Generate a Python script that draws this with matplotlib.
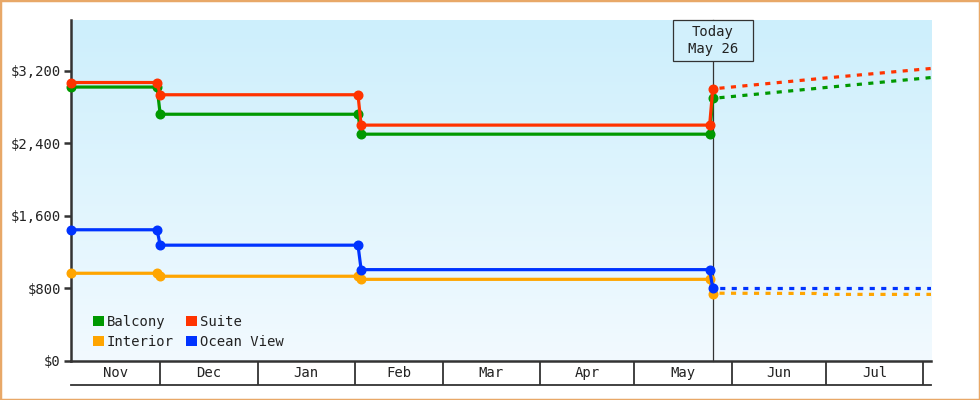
import matplotlib
matplotlib.use("Agg")
import matplotlib.pyplot as plt
import matplotlib.dates as mdates
from matplotlib.patches import Rectangle, Patch
import numpy as np
import pandas as pd

# ---- data ----
hist_dates = ["2024-11-02 12:00", "2024-11-30", "2024-12-01", "2025-02-02",
              "2025-02-03", "2025-05-25", "2025-05-26"]
fc_dates = ["2025-05-26", "2025-06-28", "2025-06-30", "2025-08-03 12:00"]

balcony_hist = [3020, 3020, 2720, 2720, 2500, 2500, 2895]
suite_hist = [3070, 3070, 2935, 2935, 2600, 2600, 3000]
ocean_hist = [1445, 1445, 1275, 1275, 1005, 1005, 800]
interior_hist = [965, 965, 932, 932, 898, 898, 740]

balcony_fc = [2895, 3005, 3012, 3125]
suite_fc = [3000, 3110, 3117, 3225]
ocean_fc = [800, 800, 800, 800]
interior_fc = [745, 742, 732, 732]

series = ["Balcony", "Suite", "Interior", "Ocean View"]
legend_order = ["Balcony", "Interior", "Suite", "Ocean View"]
colors = {"Balcony": "#009900", "Suite": "#FF3300",
          "Interior": "#FFA500", "Ocean View": "#0033FF"}
hist = {"Balcony": balcony_hist, "Suite": suite_hist,
        "Interior": interior_hist, "Ocean View": ocean_hist}
fc = {"Balcony": balcony_fc, "Suite": suite_fc,
      "Interior": interior_fc, "Ocean View": ocean_fc}

months = ["Nov", "Dec", "Jan", "Feb", "Mar", "Apr", "May", "Jun", "Jul"]
month_starts = ["2024-11-01", "2024-12-01", "2025-01-01", "2025-02-01", "2025-03-01",
                "2025-04-01", "2025-05-01", "2025-06-01", "2025-07-01", "2025-08-01"]
today = "2025-05-26"
today_label = "Today\nMay 26"
yticks = [0, 800, 1600, 2400, 3200]

x_start = "2024-11-02 12:00"
x_end = "2025-08-03 12:00"

# ---- figure ----
FONT = "DejaVu Sans Mono"
TXT = "#222222"
W, H = 980, 400
fig = plt.figure(figsize=(W / 100, H / 100), dpi=100)
fig.patch.set_facecolor("white")
fig.add_artist(Rectangle((0, 0), 1, 1, transform=fig.transFigure, fill=False,
                         edgecolor="#E8A868", linewidth=2.5))

L, R, T, B = 70.7, 931, 20, 360.7
ax = fig.add_axes([L / W, 1 - B / H, (R - L) / W, (B - T) / H])

d2n = lambda s: mdates.date2num(pd.to_datetime(s))
x0, x1 = d2n(x_start), d2n(x_end)
ymax = 3760

# gradient background
grad = np.linspace(0, 1, 256).reshape(-1, 1)
top = np.array([0xCD, 0xEF, 0xFC]) / 255
bot = np.array([0xF2, 0xFA, 0xFF]) / 255
img = top[None, None, :] * (1 - grad[:, :, None]) + bot[None, None, :] * grad[:, :, None]
ax.imshow(img, extent=[x0, x1, 0, ymax], aspect="auto", origin="upper", zorder=0)
ax.set_xlim(x0, x1)
ax.set_ylim(0, ymax)

# today line
tx = d2n(today)
ax.plot([tx, tx], [0, ymax], color="#333333", lw=0.9, zorder=1, clip_on=False)

for s in series:
    hx = [d2n(d) for d in hist_dates]
    ax.plot(hx, hist[s], color=colors[s], lw=2.3, marker="o", ms=6.2,
            zorder=3, clip_on=False, solid_joinstyle="miter")
    fx = [d2n(d) for d in fc_dates]
    ax.plot(fx, fc[s], color=colors[s], lw=2.3, linestyle=(1.5, (1.6, 2.0)),
            zorder=2, dash_capstyle="butt")

# today box (pixel geometry of the label box)
bx0, bx1, by0, by1 = 673, 753, 20, 61
fig.add_artist(Rectangle((bx0 / W, 1 - by1 / H), (bx1 - bx0) / W, (by1 - by0) / H,
                         transform=fig.transFigure, facecolor="#D2F0FC",
                         edgecolor="#333333", linewidth=0.9, zorder=5))
fig.text((bx0 + bx1) / 2 / W, 1 - (by0 + by1) / 2 / H, today_label,
         ha="center", va="center", fontsize=10, family=FONT, color=TXT,
         linespacing=1.35, zorder=6)

# y axis
for sp in ["top", "right", "bottom"]:
    ax.spines[sp].set_visible(False)
ax.spines["left"].set_color("#333333")
ax.spines["left"].set_linewidth(1.8)
ax.set_yticks(yticks)
ax.set_yticklabels([f"${v:,}" for v in yticks])
ax.tick_params(axis="y", length=5, width=1.8, color="#333333", pad=2,
               labelsize=10, labelcolor=TXT)
for lbl in ax.get_yticklabels():
    lbl.set_family(FONT)
ax.set_xticks([])

# x-axis band
ax2 = fig.add_axes([L / W, 1 - 385 / H, (R - L) / W, (385 - B) / H])
ax2.set_xlim(x0, x1)
ax2.set_ylim(0, 1)
ax2.patch.set_alpha(0)
for sp in ["left", "right"]:
    ax2.spines[sp].set_visible(False)
ax2.spines["top"].set_color("#333333")
ax2.spines["top"].set_linewidth(1.8)
ax2.spines["bottom"].set_color("#333333")
ax2.spines["bottom"].set_linewidth(1.3)
ax2.set_xticks([])
ax2.set_yticks([])
ms = [d2n(m) for m in month_starts]
for m in ms[1:]:
    ax2.plot([m, m], [0, 1], color="#333333", lw=1.3)
for i, name in enumerate(months):
    a = max(ms[i], x0)
    b = min(ms[i + 1], x1)
    ax2.text((a + b) / 2, 0.48, name, ha="center", va="center", fontsize=10,
             family=FONT, color=TXT)

# legend
handles = [Patch(facecolor=colors[s], edgecolor="none", label=s) for s in legend_order]
leg = ax.legend(handles=handles, ncol=2, loc="lower left",
                bbox_to_anchor=((93 - L) / (R - L), (B - 349) / (B - T)),
                frameon=False, borderpad=0, borderaxespad=0,
                handlelength=0.8, handleheight=0.8, handletextpad=0.2,
                columnspacing=0.85, labelspacing=0.45,
                prop={"family": FONT, "size": 10})
for t in leg.get_texts():
    t.set_color(TXT)

fig.savefig("out.png", dpi=100)
